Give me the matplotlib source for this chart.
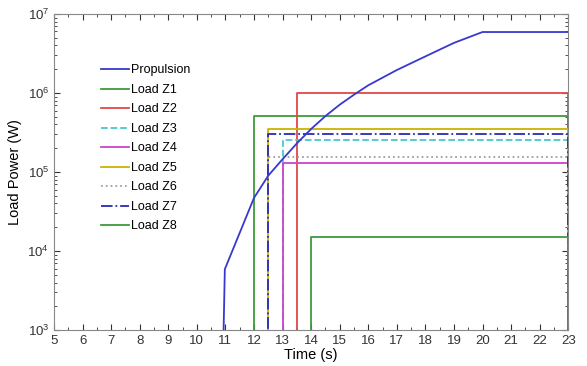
import numpy as np
import matplotlib
matplotlib.use('Agg')
import matplotlib.pyplot as plt
from matplotlib.ticker import MultipleLocator, LogLocator, NullFormatter

plt.rcParams['font.family'] = ['Liberation Sans', 'DejaVu Sans']

# propulsion power profile
t_prop = [10.88, 10.98, 12.0, 12.5, 13.0, 13.5, 14.0, 14.5, 15.0, 15.5, 16.0, 17.0, 18.0, 19.0, 20.0, 23.0]
p_prop = [1e2, 5.9e3, 4.7e4, 9.0e4, 1.45e5, 2.3e5, 3.5e5, 5.1e5, 7.1e5, 9.5e5, 1.25e6, 1.95e6, 2.9e6, 4.3e6, 5.9e6, 5.9e6]

# loads: switch-on time and power level
load_names = ['Load Z1', 'Load Z2', 'Load Z3', 'Load Z4', 'Load Z5', 'Load Z6', 'Load Z7', 'Load Z8']
load_start = [12.0, 13.5, 13.0, 13.0, 12.5, 12.5, 12.5, 14.0]
load_level = [5.1e5, 1.0e6, 2.55e5, 1.29e5, 3.5e5, 1.55e5, 3.05e5, 1.5e4]
load_color = ['#3c9c3c', '#e04848', '#48c8d0', '#cc44cc', '#c8b400', '#a0a0a0', '#2a2ab8', '#3c9c3c']
load_style = ['-', '-', '--', '-', '-', ':', '-.', '-']

t_end = 23.0
off = 1e-2

fig = plt.figure(figsize=(5.87, 3.66), dpi=100)
ax = fig.add_axes([0.092, 0.098, 0.876, 0.864])

handles = []
h, = ax.plot(t_prop, p_prop, color='#3838d0', lw=1.3, label='Propulsion', zorder=4)
handles.append(h)

for name, t0, lev, c, ls in zip(load_names, load_start, load_level, load_color, load_style):
    tt = [5.0, t0, t0, t_end, t_end]
    pp = [off, off, lev, lev, off]
    h, = ax.plot(tt, pp, color=c, ls=ls, lw=1.3, label=name, zorder=3)
    handles.append(h)

ax.set_yscale('log')
ax.set_xlim(5, 23)
ax.set_ylim(1e3, 1e7)
ax.xaxis.set_major_locator(MultipleLocator(1))
ax.xaxis.set_minor_locator(MultipleLocator(0.5))
ax.yaxis.set_major_locator(LogLocator(base=10, numticks=10))
ax.yaxis.set_minor_locator(LogLocator(base=10, subs=np.arange(2, 10), numticks=10))
ax.yaxis.set_minor_formatter(NullFormatter())
ax.tick_params(which='both', direction='in', top=True, right=True, labelsize=9.5, colors='#333333')
ax.tick_params(which='major', length=4)
ax.tick_params(which='minor', length=2)
for s in ax.spines.values():
    s.set_color('#888888')

ax.set_xlabel('Time (s)', fontsize=10.5, labelpad=1)
ax.set_ylabel('Load Power (W)', fontsize=10.5, labelpad=4)

ax.legend(handles=handles, loc='upper left', bbox_to_anchor=(0.08, 0.86), frameon=False,
          fontsize=9, handlelength=2.2, handletextpad=0.2, labelspacing=0.6, borderpad=0)

fig.savefig('out.png', dpi=100)
